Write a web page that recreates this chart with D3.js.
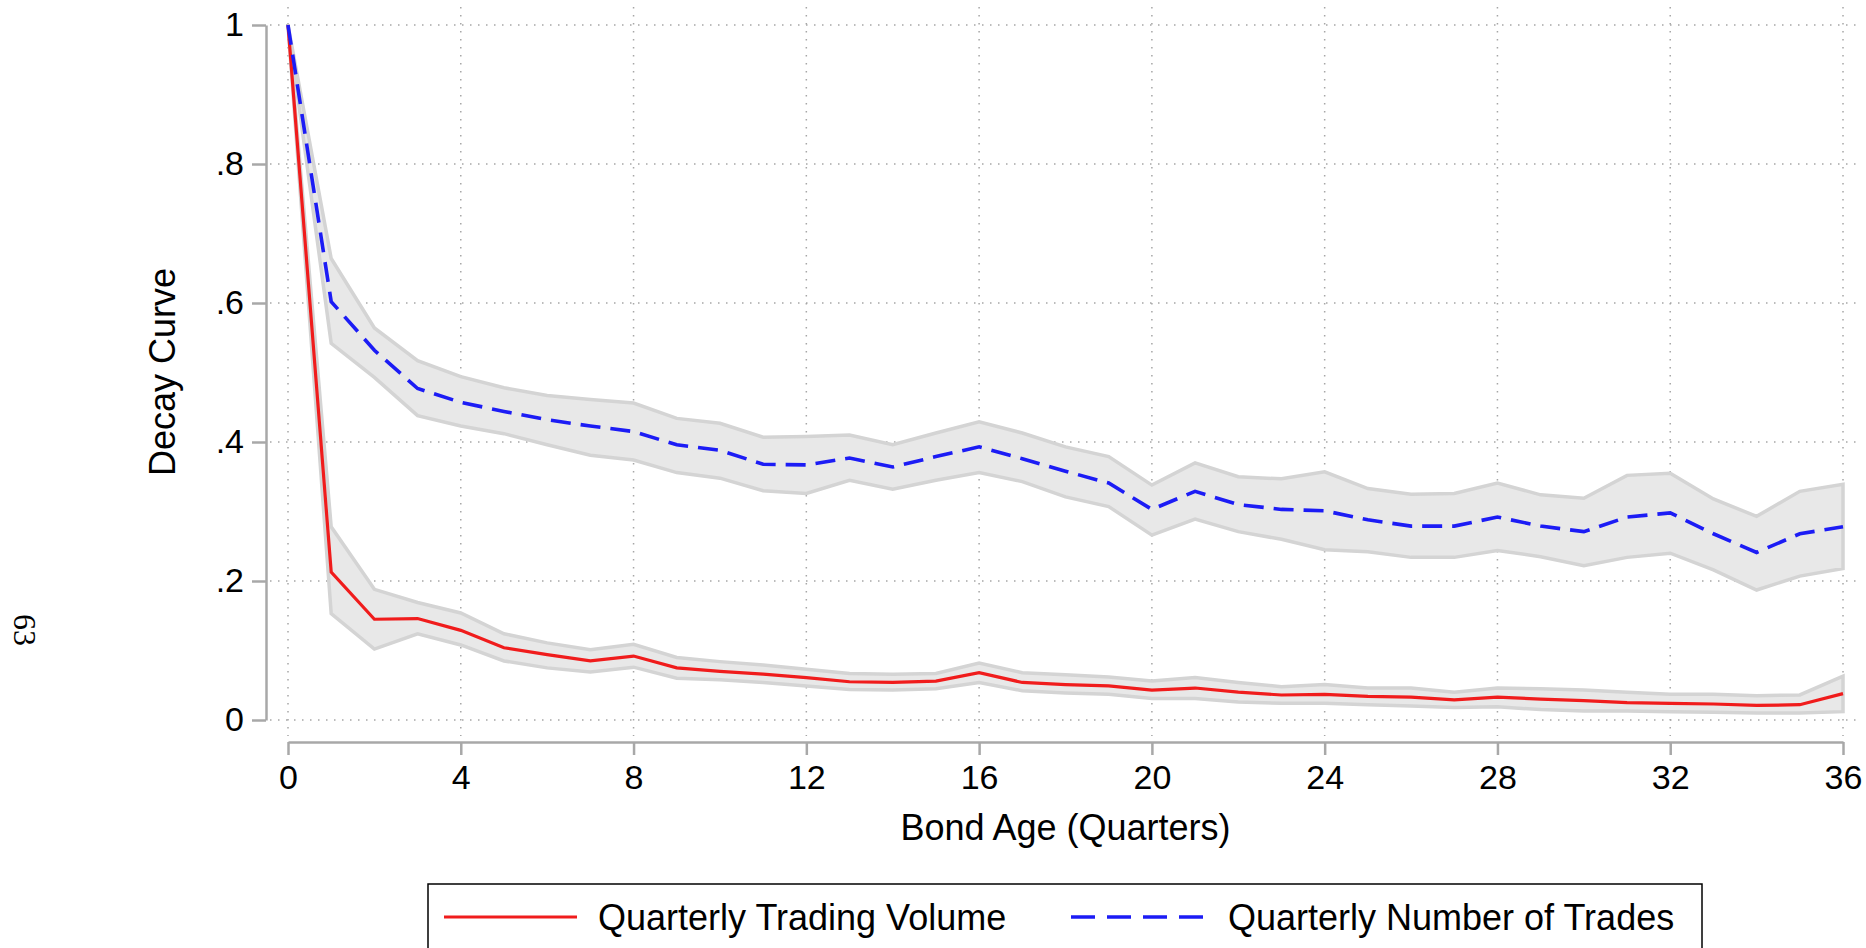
<!DOCTYPE html>
<html>
<head>
<meta charset="utf-8">
<script src="https://cdn.jsdelivr.net/npm/d3@7"></script>
<style>
  html, body { margin: 0; padding: 0; background: #fff; }
  svg { display: block; }
  text { font-family: "Liberation Sans", Arial, Helvetica, sans-serif; fill: #000; }
</style>
</head>
<body>
<svg id="chart" width="1866" height="948"></svg>
<script>
// ---- Data ----
const quarters = [0,1,2,3,4,5,6,7,8,9,10,11,12,13,14,15,16,17,18,19,20,21,22,23,24,25,26,27,28,29,30,31,32,33,34,35,36];

const volume      = [1, .213, .145, .146, .129, .104, .094, .085, .092, .075, .070, .066, .061, .055, .054, .056, .068, .054, .051, .049, .043, .046, .040, .036, .037, .034, .033, .029, .033, .030, .028, .025, .024, .023, .021, .022, .038];
const volumeUpper = [1, .278, .188, .169, .154, .124, .111, .101, .109, .090, .084, .079, .073, .067, .066, .067, .082, .068, .065, .062, .056, .061, .054, .048, .051, .046, .046, .040, .046, .045, .043, .040, .037, .037, .035, .036, .063];
const volumeLower = [1, .153, .102, .124, .108, .085, .075, .069, .076, .060, .058, .054, .049, .044, .043, .045, .054, .042, .039, .037, .031, .031, .026, .024, .024, .022, .020, .018, .019, .015, .013, .013, .012, .011, .010, .010, .012];

const trades      = [1, .602, .532, .477, .457, .444, .432, .423, .415, .396, .388, .368, .367, .377, .364, .379, .393, .376, .358, .341, .303, .329, .310, .303, .301, .288, .279, .279, .292, .279, .271, .292, .298, .268, .241, .268, .278];
const tradesUpper = [1, .664, .564, .517, .494, .478, .467, .461, .456, .434, .427, .407, .408, .410, .396, .413, .429, .413, .393, .379, .338, .370, .350, .347, .357, .333, .325, .326, .341, .324, .319, .352, .355, .318, .293, .329, .339];
const tradesLower = [1, .542, .493, .438, .423, .412, .396, .381, .374, .356, .348, .330, .326, .345, .332, .345, .356, .343, .321, .307, .266, .289, .271, .260, .245, .242, .234, .234, .244, .235, .222, .234, .240, .216, .187, .207, .218];

const xTicks = [0,4,8,12,16,20,24,28,32,36];
const yTicks = [0,.2,.4,.6,.8,1];
const yTickLabels = ["0",".2",".4",".6",".8","1"];

const xTitle = "Bond Age (Quarters)";
const yTitle = "Decay Curve";
const seriesNames = ["Quarterly Trading Volume", "Quarterly Number of Trades"];
const pageNumber = "63";

// ---- Layout ----
const svg = d3.select("#chart");
const x = d3.scaleLinear().domain([0, 36]).range([288, 1843]);
const y = d3.scaleLinear().domain([0, 1]).range([720, 25]);
const plotLeft = 270, plotRight = 1862, plotTop = 7, plotBottom = 736;

const gridColor = "#a6a6a6";
const axisColor = "#a8a8a8";

// Gridlines
const grid = svg.append("g");
grid.selectAll("line.h").data(yTicks).join("line")
  .attr("x1", plotLeft).attr("x2", plotRight)
  .attr("y1", d => y(d)).attr("y2", d => y(d))
  .attr("stroke", gridColor).attr("stroke-width", 1.5)
  .attr("stroke-dasharray", "1.5,6.5");
grid.selectAll("line.v").data(xTicks).join("line")
  .attr("y1", plotTop).attr("y2", plotBottom)
  .attr("x1", d => x(d)).attr("x2", d => x(d))
  .attr("stroke", gridColor).attr("stroke-width", 1.5)
  .attr("stroke-dasharray", "1.5,6.5");

// Confidence bands
const tradeRows = quarters.map((q, i) => ({q, lo: tradesLower[i], hi: tradesUpper[i], v: trades[i]}));
const volRows = quarters.map((q, i) => ({q, lo: volumeLower[i], hi: volumeUpper[i], v: volume[i]}));

const area = d3.area().x(d => x(d.q)).y0(d => y(d.lo)).y1(d => y(d.hi));
[tradeRows, volRows].forEach(rows => {
  svg.append("path").datum(rows)
    .attr("d", area)
    .attr("fill", "#e8e8e8")
    .attr("stroke", "#d4d4d4")
    .attr("stroke-width", 3.5)
    .attr("stroke-linejoin", "miter");
});

// Lines
const line = d3.line().x(d => x(d.q)).y(d => y(d.v));
svg.append("path").datum(volRows)
  .attr("d", line).attr("fill", "none")
  .attr("stroke", "#f01c1c").attr("stroke-width", 3.2);
svg.append("path").datum(tradeRows)
  .attr("d", line).attr("fill", "none")
  .attr("stroke", "#1c1cf5").attr("stroke-width", 3.6)
  .attr("stroke-dasharray", "20,10");

// Axes
const yAxis = d3.axisLeft(y).tickValues(yTicks)
  .tickFormat((d, i) => yTickLabels[i]).tickSize(14).tickSizeOuter(0).tickPadding(8);
const gy = svg.append("g").attr("transform", "translate(266,0)").call(yAxis);

const xAxis = d3.axisBottom(x).tickValues(xTicks)
  .tickFormat(d => String(d)).tickSize(13).tickSizeOuter(0).tickPadding(10);
const gx = svg.append("g").attr("transform", "translate(0,742)").call(xAxis);

[gx, gy].forEach(g => {
  g.select(".domain").attr("stroke", axisColor).attr("stroke-width", 2.5);
  g.selectAll(".tick line").attr("stroke", axisColor).attr("stroke-width", 2.5);
  g.selectAll(".tick text").attr("font-size", 34)
    .attr("font-family", "'Liberation Sans', Arial, sans-serif").attr("fill", "#000");
});

// Axis titles
svg.append("text").attr("x", x(18)).attr("y", 840)
  .attr("text-anchor", "middle").attr("font-size", 36).text(xTitle);
svg.append("text").attr("transform", "translate(175,372) rotate(-90)")
  .attr("text-anchor", "middle").attr("font-size", 36).text(yTitle);

// Page number (rotated)
svg.append("text").attr("transform", "translate(14,630) rotate(90)")
  .attr("text-anchor", "middle")
  .style("font-family", "'Liberation Serif', 'Times New Roman', serif")
  .attr("font-size", 32).text(pageNumber);

// Legend
const lg = svg.append("g");
lg.append("rect").attr("x", 428).attr("y", 884).attr("width", 1274).attr("height", 90)
  .attr("fill", "#fff").attr("stroke", "#000").attr("stroke-width", 1.5);
lg.append("line").attr("x1", 444).attr("x2", 577).attr("y1", 917).attr("y2", 917)
  .attr("stroke", "#f01c1c").attr("stroke-width", 3.2);
lg.append("text").attr("x", 598).attr("y", 930).attr("font-size", 36).text(seriesNames[0]);
lg.append("line").attr("x1", 1071).attr("x2", 1206).attr("y1", 917).attr("y2", 917)
  .attr("stroke", "#1c1cf5").attr("stroke-width", 3.6).attr("stroke-dasharray", "24,12");
lg.append("text").attr("x", 1228).attr("y", 930).attr("font-size", 36).text(seriesNames[1]);
</script>
</body>
</html>
